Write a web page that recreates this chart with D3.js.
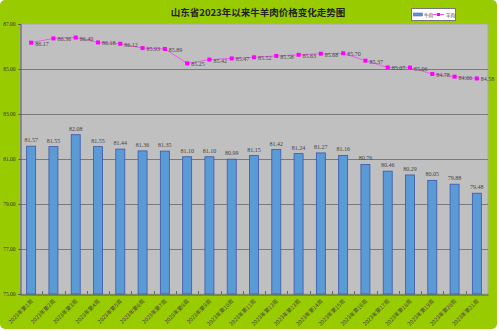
<!DOCTYPE html>
<html>
<head>
<meta charset="utf-8">
<script src="https://cdn.jsdelivr.net/npm/d3@7/dist/d3.min.js"></script>
<style>
  html, body { margin: 0; padding: 0; background: #ffffff; }
  svg { display: block; }
</style>
</head>
<body>
<script>
const weeks = ["2023年第1周","2023年第2周","2023年第3周","2023年第4周","2023年第5周","2023年第6周","2023年第7周",
  "2023年第8周","2023年第9周","2023年第10周","2023年第11周","2023年第12周","2023年第13周","2023年第14周",
  "2023年第15周","2023年第16周","2023年第17周","2023年第18周","2023年第19周","2023年第20周","2023年第21周"];
const beef = [81.57, 81.55, 82.08, 81.55, 81.44, 81.36, 81.35, 81.10, 81.10, 80.99, 81.15,
  81.42, 81.24, 81.27, 81.16, 80.76, 80.46, 80.29, 80.05, 79.88, 79.48];
const mutton = [86.17, 86.36, 86.40, 86.18, 86.12, 85.93, 85.89, 85.25, 85.42, 85.47, 85.52,
  85.58, 85.63, 85.68, 85.70, 85.37, 85.07, 85.06, 84.78, 84.66, 84.58];
const yTicks = [75, 77, 79, 81, 83, 85, 87];
const seriesNames = ["牛肉", "羊肉"];
const title = "山东省2023年以来牛羊肉价格变化走势图";

const W = 500, H = 331;
const plot = { left: 20, right: 488, top: 24, bottom: 294 };
const fmt = d3.format(".2f");
const numFont = "'Liberation Serif', 'DejaVu Serif', serif";
const cjkFont = "'Noto Sans CJK SC', sans-serif";

const svg = d3.select("body").append("svg").attr("width", W).attr("height", H);

// background
svg.append("rect").attr("x", 0).attr("y", 0).attr("width", 497).attr("height", 329)
  .attr("rx", 5).attr("fill", "#99cc00");

const x = d3.scaleBand().domain(weeks).range([plot.left, plot.right]).paddingInner(0).paddingOuter(0);
const y = d3.scaleLinear().domain([75, 87]).range([plot.bottom, plot.top]);

// plot area
svg.append("rect").attr("x", plot.left).attr("y", plot.top)
  .attr("width", plot.right - plot.left).attr("height", plot.bottom - plot.top)
  .attr("fill", "#c0c0c0").attr("stroke", "#a8a8a8").attr("stroke-width", 1);

// gridlines
svg.append("g").selectAll("line").data(yTicks.filter(t => t > 75 && t < 87)).join("line")
  .attr("x1", plot.left).attr("x2", plot.right)
  .attr("y1", d => Math.round(y(d)) + 0.5).attr("y2", d => Math.round(y(d)) + 0.5)
  .attr("stroke", "#7a7a7a").attr("stroke-width", 1);

// y axis
const yAxis = d3.axisLeft(y).tickValues(yTicks).tickFormat(fmt).tickSize(2).tickPadding(3);
const gy = svg.append("g").attr("transform", `translate(${plot.left + 0.5},0)`).call(yAxis);
gy.select(".domain").attr("stroke", "#555");
gy.selectAll(".tick line").attr("stroke", "#555");
gy.selectAll("text").attr("font-size", 5.5).attr("font-family", numFont).attr("fill", "#333");

// x axis
const xAxis = d3.axisBottom(x).tickSize(0).tickPadding(4);
const gx = svg.append("g").attr("transform", `translate(0,${plot.bottom + 0.5})`).call(xAxis);
gx.select(".domain").attr("stroke", "#555");
gx.selectAll("text")
  .attr("font-size", 5.5).attr("font-family", cjkFont).attr("fill", "#444")
  .attr("text-anchor", "end")
  .attr("transform", "translate(-2,3) rotate(-45)")
  .attr("dy", "0.35em");
// inward boundary ticks
svg.append("g").selectAll("line").data(weeks.slice(1)).join("line")
  .attr("x1", d => Math.round(x(d)) + 0.5).attr("x2", d => Math.round(x(d)) + 0.5)
  .attr("y1", plot.bottom - 3).attr("y2", plot.bottom)
  .attr("stroke", "#666");

// bars
const bw = 9;
svg.append("g").selectAll("rect").data(beef).join("rect")
  .attr("x", (d, i) => x(weeks[i]) + x.bandwidth() / 2 - bw / 2)
  .attr("y", d => y(d))
  .attr("width", bw)
  .attr("height", d => plot.bottom - y(d))
  .attr("fill", "#5b9bd5").attr("stroke", "#3a55b0").attr("stroke-width", 0.8);

svg.append("g").selectAll("text").data(beef).join("text")
  .attr("x", (d, i) => x(weeks[i]) + x.bandwidth() / 2)
  .attr("y", d => y(d) - 4)
  .attr("text-anchor", "middle")
  .attr("font-size", 6).attr("font-family", numFont).attr("fill", "#444")
  .text(d => fmt(d));

// line
const cx = i => x(weeks[i]) + x.bandwidth() / 2;
const line = d3.line().x((d, i) => cx(i)).y(d => y(d));
svg.append("path").datum(mutton).attr("d", line)
  .attr("fill", "none").attr("stroke", "#e860e8").attr("stroke-width", 1);
svg.append("g").selectAll("rect").data(mutton).join("rect")
  .attr("x", (d, i) => cx(i) - 2).attr("y", d => y(d) - 2)
  .attr("width", 4).attr("height", 4).attr("fill", "#ff00ff");
svg.append("g").selectAll("text").data(mutton).join("text")
  .attr("x", (d, i) => cx(i) + 4)
  .attr("y", d => y(d) + 3)
  .attr("font-size", 6).attr("font-family", numFont).attr("fill", "#444")
  .text(d => fmt(d));

// title
svg.append("text").attr("x", 258).attr("y", 15.5).attr("text-anchor", "middle")
  .attr("font-size", 9.5).attr("font-weight", "bold").attr("font-family", cjkFont)
  .attr("fill", "#222").text(title);

// legend
const lg = svg.append("g");
lg.append("rect").attr("x", 411.5).attr("y", 8.5).attr("width", 44).attr("height", 12)
  .attr("fill", "#ffffff").attr("stroke", "#777");
lg.append("rect").attr("x", 413.5).attr("y", 13).attr("width", 9).attr("height", 3)
  .attr("fill", "#5b9bd5").attr("stroke", "#3a55b0").attr("stroke-width", 0.5);
lg.append("text").attr("x", 424).attr("y", 16.5).attr("font-size", 4.5)
  .attr("font-family", cjkFont).attr("fill", "#333").text(seriesNames[0]);
lg.append("line").attr("x1", 432.5).attr("x2", 444).attr("y1", 14.5).attr("y2", 14.5)
  .attr("stroke", "#e860e8").attr("stroke-width", 1);
lg.append("rect").attr("x", 437).attr("y", 13).attr("width", 3).attr("height", 3).attr("fill", "#ff00ff");
lg.append("text").attr("x", 446).attr("y", 16.5).attr("font-size", 4.5)
  .attr("font-family", cjkFont).attr("fill", "#333").text(seriesNames[1]);
</script>
</body>
</html>
